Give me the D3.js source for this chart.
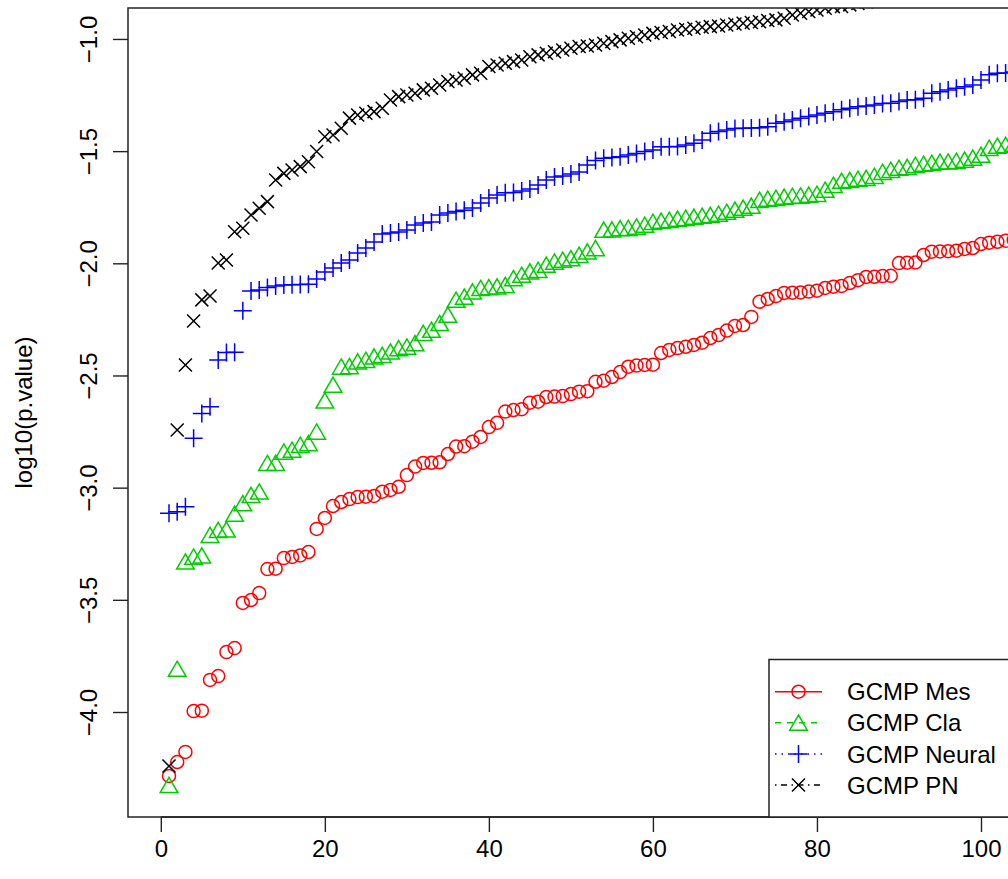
<!DOCTYPE html>
<html><head><meta charset="utf-8">
<script src="https://cdn.jsdelivr.net/npm/d3@7"></script>
<style>
body{margin:0;background:#fff}
svg{display:block}
text{font-family:"Liberation Sans",Arial,Helvetica,sans-serif;fill:#000}
</style>
</head><body>
<svg id="chart" width="1008" height="879"></svg>
<script>
// ---- data ----
const seriesNames = ["GCMP Mes", "GCMP Cla", "GCMP Neural", "GCMP PN"];
const seriesColors = ["#ff0000", "#00cd00", "#0000ff", "#000000"];
const seriesShapes = ["circle", "triangle", "plus", "cross"];
const seriesDash = [null, "6,6", "1.5,5", "1.5,4.5,6,4.5"];

const mesValues = [-4.285,-4.223,-4.178,-3.996,-3.994,-3.857,-3.840,-3.733,-3.715,-3.514,
-3.501,-3.470,-3.363,-3.361,-3.314,-3.309,-3.302,-3.287,-3.184,-3.135,
-3.082,-3.064,-3.051,-3.042,-3.040,-3.037,-3.018,-3.010,-2.996,-2.944,
-2.906,-2.890,-2.889,-2.887,-2.850,-2.817,-2.815,-2.795,-2.774,-2.730,
-2.711,-2.661,-2.654,-2.650,-2.621,-2.617,-2.596,-2.594,-2.592,-2.583,
-2.572,-2.570,-2.528,-2.523,-2.507,-2.485,-2.461,-2.456,-2.453,-2.452,
-2.400,-2.386,-2.378,-2.372,-2.364,-2.354,-2.333,-2.320,-2.300,-2.279,
-2.275,-2.239,-2.171,-2.159,-2.146,-2.132,-2.131,-2.130,-2.126,-2.122,
-2.110,-2.104,-2.101,-2.088,-2.075,-2.061,-2.060,-2.057,-2.056,-1.999,
-1.997,-1.996,-1.963,-1.948,-1.947,-1.946,-1.944,-1.936,-1.932,-1.914,
-1.908,-1.904,-1.899,-1.896];

const claValues = [-4.326,-3.808,-3.330,-3.308,-3.303,-3.211,-3.189,-3.187,-3.117,-3.070,
-3.033,-3.018,-2.891,-2.890,-2.840,-2.832,-2.810,-2.802,-2.751,-2.612,
-2.542,-2.461,-2.459,-2.438,-2.431,-2.416,-2.409,-2.394,-2.379,-2.372,
-2.357,-2.311,-2.297,-2.267,-2.230,-2.163,-2.149,-2.126,-2.111,-2.107,
-2.104,-2.097,-2.067,-2.052,-2.037,-2.030,-2.007,-1.993,-1.985,-1.978,
-1.963,-1.948,-1.933,-1.851,-1.850,-1.844,-1.843,-1.837,-1.829,-1.816,
-1.811,-1.807,-1.802,-1.798,-1.793,-1.789,-1.785,-1.780,-1.771,-1.762,
-1.753,-1.744,-1.718,-1.713,-1.709,-1.704,-1.700,-1.699,-1.695,-1.691,
-1.673,-1.651,-1.633,-1.629,-1.624,-1.620,-1.611,-1.593,-1.584,-1.575,
-1.571,-1.562,-1.557,-1.553,-1.548,-1.547,-1.544,-1.539,-1.530,-1.517,
-1.486,-1.477,-1.473,-1.468];

const neuralValues = [-3.114,-3.107,-3.085,-2.780,-2.669,-2.639,-2.431,-2.398,-2.397,-2.211,
-2.123,-2.119,-2.108,-2.101,-2.097,-2.096,-2.095,-2.093,-2.070,-2.039,
-2.021,-1.999,-1.985,-1.954,-1.932,-1.905,-1.869,-1.865,-1.860,-1.851,
-1.829,-1.820,-1.816,-1.785,-1.776,-1.769,-1.764,-1.753,-1.731,-1.709,
-1.695,-1.686,-1.684,-1.678,-1.669,-1.651,-1.629,-1.615,-1.611,-1.602,
-1.593,-1.562,-1.542,-1.532,-1.528,-1.525,-1.517,-1.510,-1.502,-1.495,
-1.481,-1.480,-1.479,-1.473,-1.465,-1.450,-1.420,-1.413,-1.406,-1.399,
-1.398,-1.397,-1.396,-1.391,-1.376,-1.369,-1.361,-1.353,-1.346,-1.339,
-1.331,-1.324,-1.316,-1.309,-1.302,-1.299,-1.294,-1.288,-1.287,-1.279,
-1.272,-1.271,-1.264,-1.242,-1.235,-1.227,-1.220,-1.213,-1.205,-1.183,
-1.160,-1.153,-1.152,-1.147];

const pnValues = [-4.241,-2.743,-2.453,-2.257,-2.163,-2.146,-1.999,-1.985,-1.859,-1.844,
-1.785,-1.755,-1.725,-1.629,-1.599,-1.584,-1.569,-1.547,-1.502,-1.436,
-1.428,-1.398,-1.353,-1.339,-1.331,-1.324,-1.309,-1.272,-1.257,-1.250,
-1.242,-1.227,-1.220,-1.205,-1.190,-1.183,-1.175,-1.160,-1.153,-1.123,
-1.116,-1.108,-1.101,-1.094,-1.079,-1.071,-1.064,-1.057,-1.049,-1.041,
-1.034,-1.031,-1.027,-1.019,-1.012,-1.004,-0.997,-0.990,-0.982,-0.975,
-0.971,-0.967,-0.960,-0.957,-0.952,-0.948,-0.945,-0.942,-0.938,-0.933,
-0.930,-0.927,-0.923,-0.918,-0.915,-0.908,-0.893,-0.885,-0.878,-0.871,
-0.863,-0.856,-0.855,-0.848,-0.842,-0.835,-0.826];

const xTicks = [0, 20, 40, 60, 80, 100];
const yTicks = [-4.0, -3.5, -3.0, -2.5, -2.0, -1.5, -1.0];
const yTitle = "log10(p.value)";

const allSeries = [mesValues, claValues, neuralValues, pnValues];

// ---- layout ----
const svg = d3.select("#chart");
const pLeft = 128, pRight = 1013.8, pTop = 8, pBottom = 817;
const x = d3.scaleLinear().domain([-4, 104]).range([pLeft, pRight]);
const y = d3.scaleLinear().domain([-4.468, -0.862]).range([pBottom, pTop]);

const R = 6.5;
function markerPath(shape) {
  const p = d3.path();
  if (shape === "circle") { p.moveTo(R, 0); p.arc(0, 0, R, 0, 2 * Math.PI); }
  else if (shape === "triangle") { p.moveTo(0, -7.8); p.lineTo(8.8, 7.4); p.lineTo(-8.8, 7.4); p.closePath(); }
  else if (shape === "plus") { const a = 9; p.moveTo(-a, 0); p.lineTo(a, 0); p.moveTo(0, -a); p.lineTo(0, a); }
  else { const a = R; p.moveTo(-a, -a); p.lineTo(a, a); p.moveTo(-a, a); p.lineTo(a, -a); }
  return p.toString();
}

svg.append("defs").append("clipPath").attr("id", "plotclip")
  .append("rect").attr("x", pLeft).attr("y", pTop).attr("width", pRight - pLeft).attr("height", pBottom - pTop);

const pts = svg.append("g").attr("clip-path", "url(#plotclip)");
allSeries.forEach((vals, si) => {
  pts.append("g").selectAll("path")
    .data(vals.map((v, i) => ({ i: i + 1, v })))
    .join("path")
    .attr("transform", d => `translate(${x(d.i)},${y(d.v)})`)
    .attr("d", markerPath(seriesShapes[si]))
    .attr("fill", "none")
    .attr("stroke", seriesColors[si])
    .attr("stroke-width", 1.5);
});

// ---- axes ----
const minus = s => s.replace("-", "\u2212");
const yAxis = svg.append("g").attr("transform", `translate(${pLeft},0)`)
  .call(d3.axisLeft(y).tickValues(yTicks).tickSize(15).tickFormat(d => minus(d3.format(".1f")(d))));
yAxis.select(".domain").remove();
yAxis.selectAll(".tick line").attr("stroke", "#222").attr("stroke-width", 1.4);
yAxis.selectAll(".tick text")
  .attr("x", null).attr("dy", null).attr("y", null)
  .attr("transform", "translate(-31,0) rotate(-90)")
  .attr("text-anchor", "middle")
  .style("font-size", "24px").style("font-family", "Liberation Sans, Arial, sans-serif");

const xAxis = svg.append("g").attr("transform", `translate(0,${pBottom})`)
  .call(d3.axisBottom(x).tickValues(xTicks).tickSize(15).tickFormat(d3.format("d")));
xAxis.select(".domain").remove();
xAxis.selectAll(".tick line").attr("stroke", "#222").attr("stroke-width", 1.4);
xAxis.selectAll(".tick text")
  .attr("y", 40).attr("dy", null)
  .style("font-size", "24px").style("font-family", "Liberation Sans, Arial, sans-serif");

// axis line along ticks
svg.append("line").attr("x1", x(xTicks[0])).attr("x2", x(xTicks[xTicks.length - 1]))
  .attr("y1", pBottom).attr("y2", pBottom).attr("stroke", "#222").attr("stroke-width", 1.4);

// plot box
svg.append("rect").attr("x", pLeft).attr("y", pTop).attr("width", pRight - pLeft).attr("height", pBottom - pTop)
  .attr("fill", "none").attr("stroke", "#222").attr("stroke-width", 1.5);

// y title
svg.append("text")
  .attr("transform", `translate(32,${(pTop + pBottom) / 2}) rotate(-90)`)
  .attr("text-anchor", "middle")
  .style("font-size", "24px")
  .text(yTitle);

// ---- legend ----
const lg = svg.append("g");
lg.append("rect").attr("x", 769).attr("y", 659.5).attr("width", pRight - 769).attr("height", pBottom - 659.5)
  .attr("fill", "#fff").attr("stroke", "#222").attr("stroke-width", 1.5);
seriesNames.forEach((name, si) => {
  const cy = 691.7 + si * 31.1;
  const row = lg.append("g");
  const ln = row.append("line").attr("x1", 775).attr("x2", 822).attr("y1", cy).attr("y2", cy)
    .attr("stroke", seriesColors[si]).attr("stroke-width", 1.5);
  if (seriesDash[si]) ln.attr("stroke-dasharray", seriesDash[si]);
  row.append("path").attr("transform", `translate(798.5,${cy})`).attr("d", markerPath(seriesShapes[si]))
    .attr("fill", "none").attr("stroke", seriesColors[si]).attr("stroke-width", 1.5);
  row.append("text").attr("x", 847).attr("y", cy + 8.6).style("font-size", "24px").text(name);
});
</script>
</body></html>
